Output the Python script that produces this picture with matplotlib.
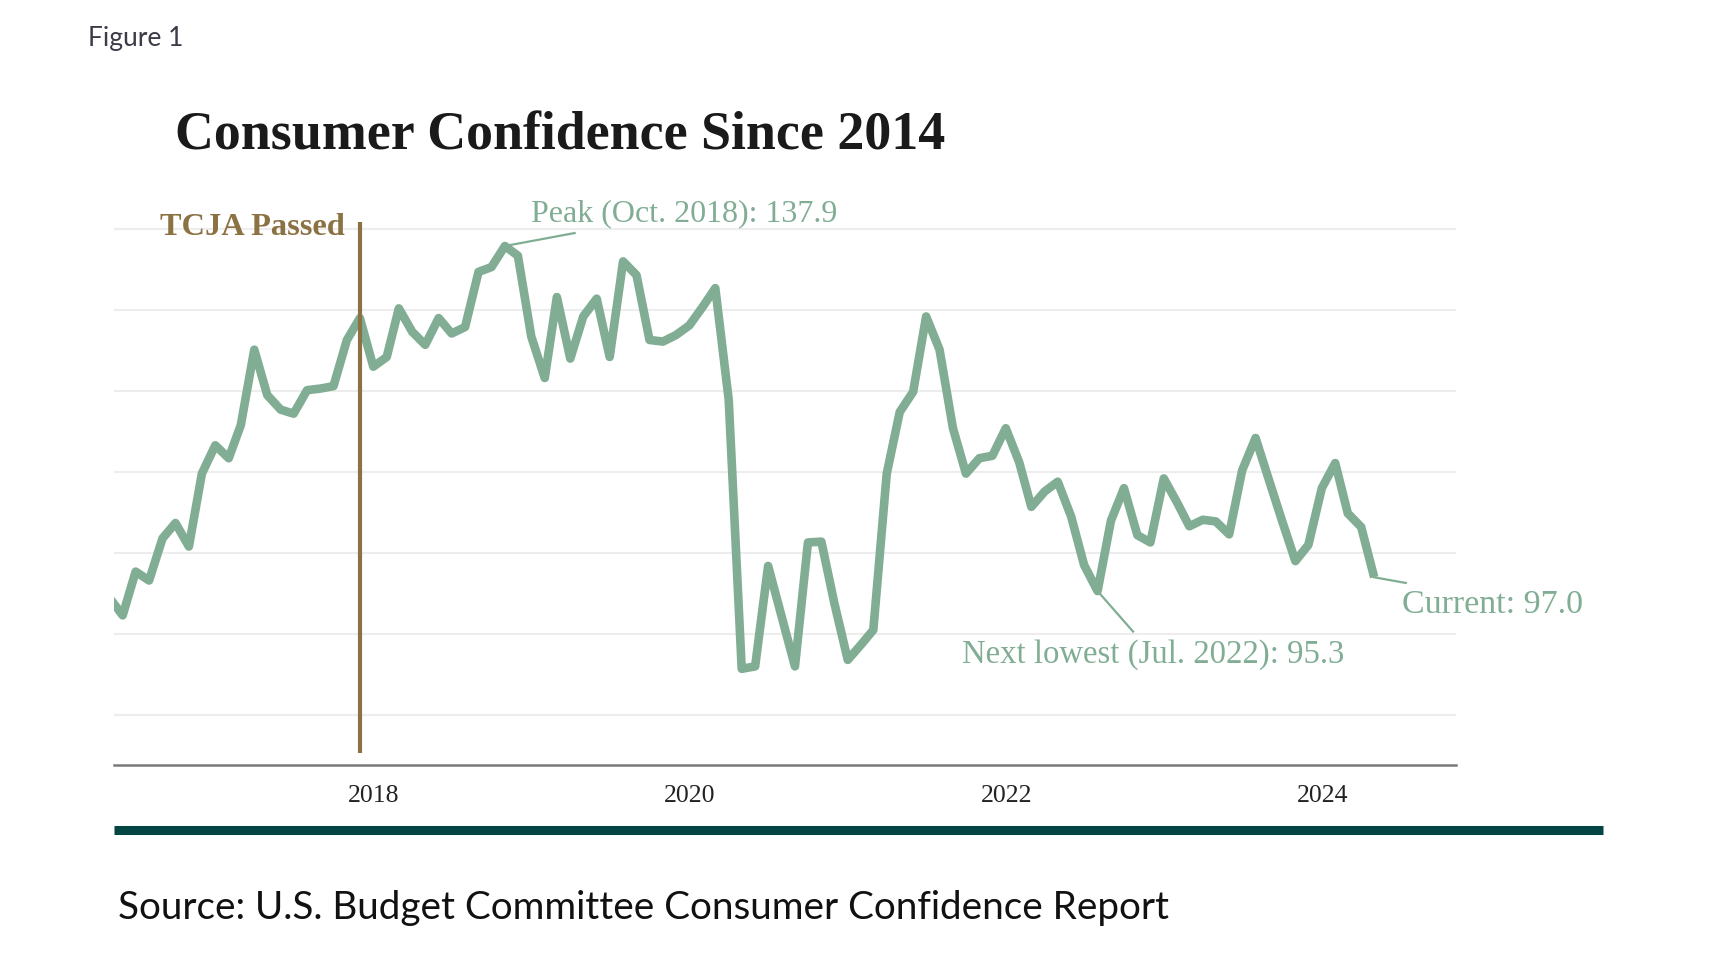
import matplotlib
matplotlib.use("Agg")
import matplotlib.pyplot as plt
import matplotlib.dates as mdates
from matplotlib.lines import Line2D
import pandas as pd

# ---------------- data (monthly index, Apr 2016 - Apr 2024) ----------------
start_month = "2016-04-30"
end_month = "2024-04-30"
values_2016 = [94.5, 92.3, 97.7, 96.6, 101.8, 103.7, 100.8, 109.8, 113.3]  # Apr-Dec
values_2017 = [111.7, 115.8, 125.1, 119.5, 117.7, 117.2, 120.1, 120.3, 120.6, 126.3, 129.0, 123.0]
values_2018 = [124.2, 130.2, 127.3, 125.7, 129.0, 127.1, 127.9, 134.7, 135.3, 137.9, 136.7, 126.7]
values_2019 = [121.6, 131.6, 124.0, 129.2, 131.4, 124.2, 136.0, 134.3, 126.3, 126.1, 126.9, 128.1]
values_2020 = [130.4, 132.7, 118.9, 85.7, 86.0, 98.4, 92.2, 86.0, 101.3, 101.4, 93.8, 86.8]
values_2021 = [88.7, 90.5, 109.8, 117.4, 119.9, 129.2, 125.1, 115.4, 109.8, 111.7, 112.0, 115.4]
values_2022 = [111.2, 105.7, 107.6, 108.8, 104.5, 98.5, 95.3, 104.0, 108.0, 102.2, 101.3, 109.2]
values_2023 = [106.2, 103.3, 104.1, 103.9, 102.3, 110.2, 114.2, 109.0, 104.0, 99.0, 101.0, 108.0]
values_2024 = [111.1, 104.9, 103.2, 97.0]  # Jan-Apr

tick_years = ["2018", "2020", "2022", "2024"]
grid_values = [80, 90, 100, 110, 120, 130, 140]

tcja_date = "2017-11-30"
tcja_label = "TCJA Passed"
peak_date, peak_value = "2018-10-31", 137.9
low_date, low_value = "2022-07-31", 95.3
current_date, current_value = "2024-04-30", 97.0
peak_label = "Peak (Oct. 2018): 137.9"
low_label = "Next lowest (Jul. 2022): 95.3"
current_label = "Current: 97.0"

title = "Consumer Confidence Since 2014"
figure_label = "Figure 1"
source = "Source: U.S. Budget Committee Consumer Confidence Report"

# ---------------- build ----------------
dates = pd.date_range(start_month, end_month, freq="ME")
values = (values_2016 + values_2017 + values_2018 + values_2019 + values_2020
          + values_2021 + values_2022 + values_2023 + values_2024)

GREEN = "#80ad93"
GOLD = "#8c7142"
TEAL = "#024543"
SERIF = ["Liberation Serif", "DejaVu Serif"]
SANS = ["Lato", "DejaVu Sans"]

W, H = 1718, 964
fig = plt.figure(figsize=(W / 100, H / 100), dpi=100)
fig.patch.set_facecolor("white")

# axes position in pixels
ax_left, ax_right = 114, 1456
ax_bottom_px, ax_top_px = 765.2, 212.8
ax = fig.add_axes([ax_left / W, 1 - ax_bottom_px / H,
                   (ax_right - ax_left) / W, (ax_bottom_px - ax_top_px) / H])
ax.set_facecolor("white")

ax.set_xlim(mdates.datestr2num("2016-05-11"), mdates.datestr2num("2024-11-05"))
ax.set_ylim(73.8, 142)

for g in grid_values:
    ax.axhline(g, color="#ededed", lw=1.5, zorder=0)

ax.plot(dates, values, color=GREEN, lw=6.2, solid_joinstyle="round",
        solid_capstyle="butt", zorder=3)

# TCJA line
tx = mdates.datestr2num(tcja_date)
ax.plot([tx, tx], [75.3, 140.9], color=GOLD, lw=3.0, zorder=4,
        solid_capstyle="butt", clip_on=False)
ax.text(mdates.datestr2num("2017-10-27"), 139.3, tcja_label, color=GOLD,
        fontsize=23.3, fontweight="bold", family=SERIF, ha="right", va="baseline")

# annotations
def connector(x0, y0, x1, y1):
    ax.plot([mdates.datestr2num(x0), mdates.datestr2num(x1)], [y0, y1],
            color=GREEN, lw=1.6, zorder=2, clip_on=False)

connector(peak_date, peak_value, "2019-04-10", 139.5)
ax.text(mdates.datestr2num("2018-12-30"), 140.9, peak_label, color=GREEN,
        fontsize=23, family=SERIF, ha="left", va="baseline")

connector(low_date, low_value, "2022-10-21", 90.3)
ax.text(mdates.datestr2num("2021-09-21"), 86.4, low_label, color=GREEN,
        fontsize=23.6, family=SERIF, ha="left", va="baseline")

connector(current_date, current_value, "2024-07-12", 96.3)
ax.text(mdates.datestr2num("2024-07-03"), 92.6, current_label, color=GREEN,
        fontsize=24.5, family=SERIF, ha="left", va="baseline", clip_on=False)

# axes styling
for s in ["top", "left", "right"]:
    ax.spines[s].set_visible(False)
ax.spines["bottom"].set_color("#7a7a7a")
ax.spines["bottom"].set_linewidth(1.8)
ax.set_yticks([])
ax.set_xticks([mdates.datestr2num(y + "-01-01") for y in tick_years])
ax.set_xticklabels(tick_years, family=SERIF, fontsize=18.5, color="#222222")
ax.tick_params(axis="x", length=0, pad=14)

# figure texts
fig.text(88 / W, 1 - 46 / H, figure_label, fontsize=19, color="#3c3c48",
         family=SANS, ha="left", va="baseline")
fig.text(175 / W, 1 - 150 / H, title, fontsize=38.8, fontweight="bold",
         color="#1a1a1a", family=SERIF, ha="left", va="baseline")
fig.text(118 / W, 1 - 919 / H, source, fontsize=27.8, color="#111111",
         family=SANS, ha="left", va="baseline")

# teal rule
fig.add_artist(Line2D([114 / W, 1603 / W], [1 - 829.5 / H, 1 - 829.5 / H],
                      transform=fig.transFigure, color=TEAL, lw=6.5,
                      solid_capstyle="butt"))

fig.savefig("out.png", dpi=100, facecolor="white")
